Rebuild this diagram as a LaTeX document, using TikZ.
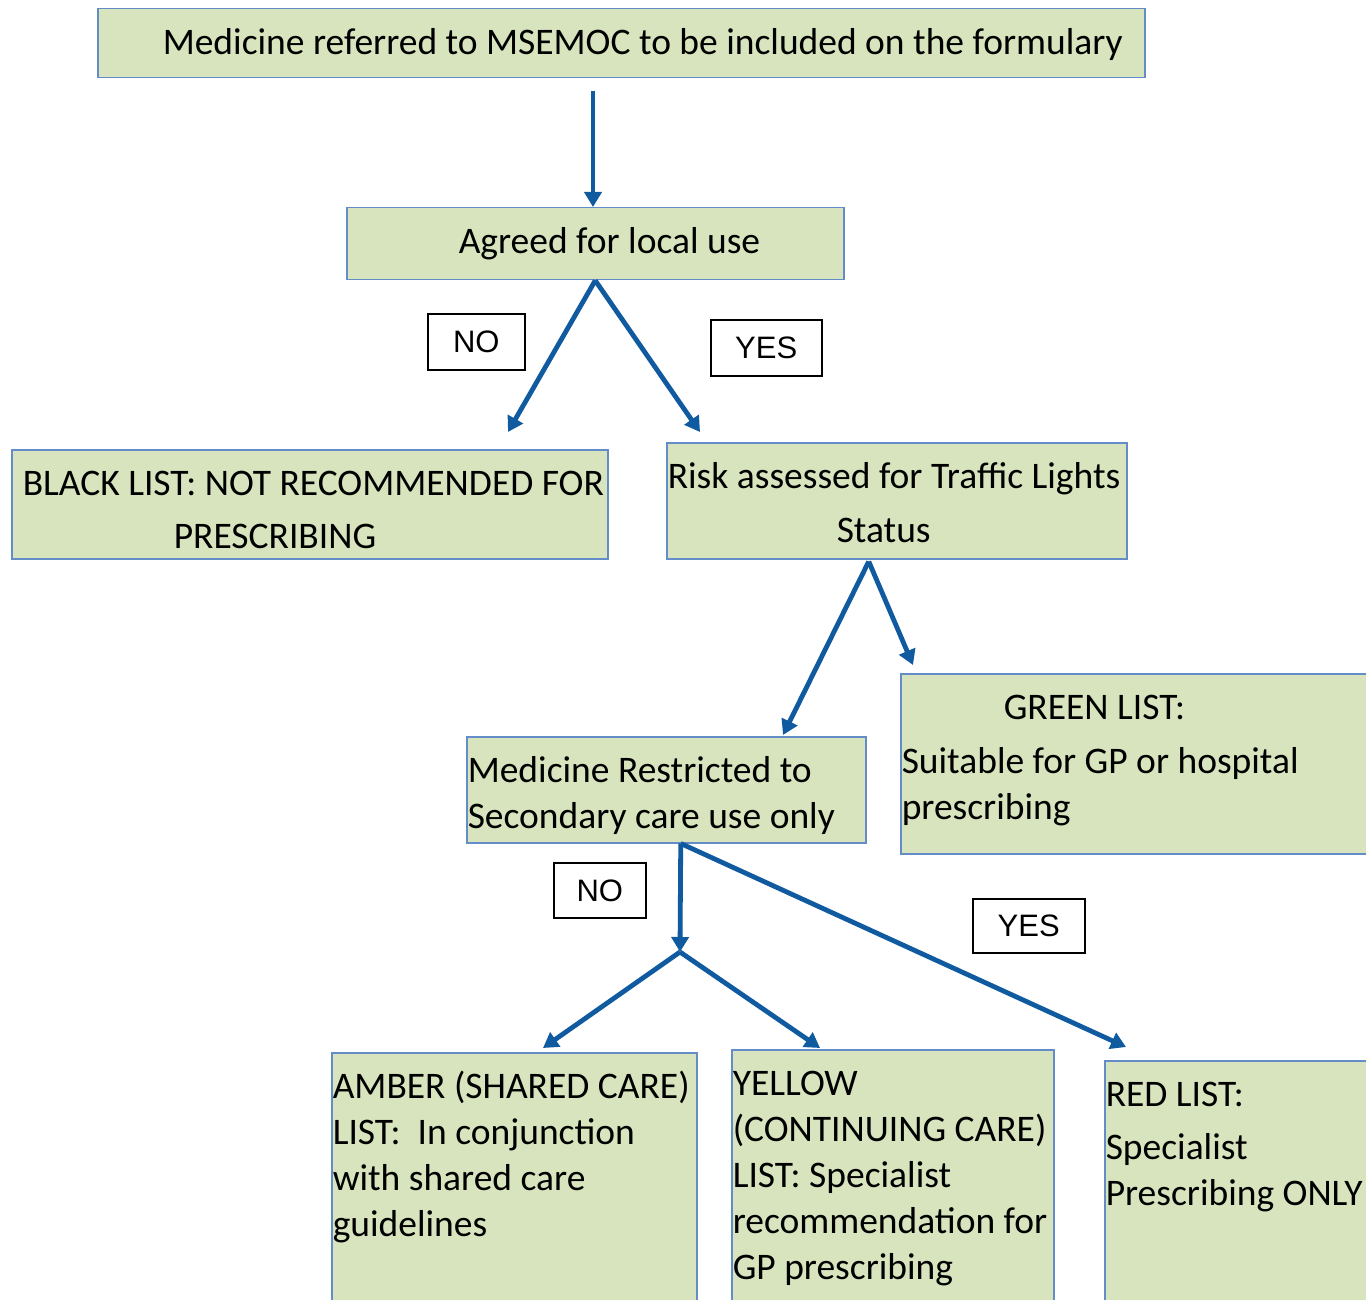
\documentclass[tikz,border=0pt]{standalone}
\usepackage{fontspec}
\setmainfont{Carlito}
\newfontfamily\tagfont{Liberation Sans}
\usetikzlibrary{arrows.meta, positioning, calc}
\definecolor{boxfill}{RGB}{215,228,189}
\definecolor{boxline}{RGB}{100,140,200}
\definecolor{arrowblue}{RGB}{16,90,160}
\tikzset{
  box/.style={
    draw=boxline,
    fill=boxfill,
    line width=1.5pt,
    rectangle,
    anchor=north west,
    align=flush left,
    inner xsep=1pt,
    inner ysep=0pt,
    text height=46pt,
    font=\fontsize{37.5pt}{46pt}\selectfont,
  },
  tag/.style={
    draw=black,
    fill=white,
    line width=1.5pt,
    rectangle,
    anchor=north west,
    inner sep=0pt,
    text height=22pt,
    text depth=0pt,
    font=\tagfont\fontsize{31pt}{36pt}\selectfont,
  },
  arrow/.style={
    draw=arrowblue,
    line width=4.8pt,
    -{Triangle[length=15pt,width=17pt]}
  }
}

\begin{document}
\begin{tikzpicture}[x=1pt,y=-1pt]
\useasboundingbox (0,0) rectangle (1366,1300);
\clip (0,0) rectangle (1366,1300);

% --- Boxes ---
\node[box, text width=1045pt, text depth=23pt] (referred) at (97,8)
  {\hspace*{64pt}Medicine referred to MSEMOC to be included on the formulary};
\node[box, text width=495pt, text depth=26pt] (agreed) at (346,207)
  {\hspace*{111pt}Agreed for local use};
\node[box, text width=594pt, text depth=63pt] (black) at (11,449)
  {\hspace*{10pt}BLACK LIST: NOT RECOMMENDED FOR\\[7pt]\hspace*{161pt}PRESCRIBING};
\node[box, text width=458pt, text depth=70pt] (risk) at (666,442)
  {Risk assessed for Traffic Lights\\[8pt]\hspace*{169pt}Status};
\node[box, text width=397pt, text depth=60pt] (restricted) at (466,736)
  {Medicine Restricted to\\Secondary care use only};
\node[box, text width=498pt, text depth=134pt] (green) at (900,673)
  {\hspace*{102pt}GREEN LIST:\\[8pt]Suitable for GP or hospital\\prescribing};
\node[box, text width=363pt, text depth=300pt] (amber) at (331,1052)
  {AMBER (SHARED CARE)\\LIST:\ \ In conjunction\\with shared care\\guidelines};
\node[box, text width=320pt, text depth=300pt] (yellow) at (731,1049)
  {YELLOW\\(CONTINUING CARE)\\LIST: Specialist\\recommendation for\\GP prescribing};
\node[box, text width=298pt, text depth=300pt] (red) at (1104,1060)
  {RED LIST:\\[7pt]Specialist\\Prescribing ONLY};

% --- Yes / No tags ---
\node[tag, minimum width=97pt, minimum height=56pt] (no1) at (427,313) {NO};
\node[tag, minimum width=111pt, minimum height=56pt] (yes1) at (710,319) {YES};
\node[tag, minimum width=92pt, minimum height=55pt] (no2) at (553,862) {NO};
\node[tag, minimum width=112pt, minimum height=54pt] (yes2) at (972,898) {YES};

% --- Arrow ends ---
\coordinate (start) at (593,91);
\coordinate (blackend) at (508,432);
\coordinate (riskend) at (700,432);
\coordinate (risksplit) at ($(risk.south)+(-28,2)$);
\coordinate (restrictedend) at (783,735);
\coordinate (greenend) at (913,665);
\coordinate (split) at ($(restricted.south)+(14.5,0)$);
\coordinate (fork) at (680,952);
\coordinate (amberend) at (543,1048);
\coordinate (yellowend) at (820,1048);
\coordinate (redend) at (1126,1047);

% --- Arrows ---
\draw[arrow] (start) -- (start |- agreed.north);
\draw[arrow] (agreed.south) -- (blackend);
\draw[arrow] (agreed.south) -- (riskend);
\draw[arrow] (risksplit) -- (restrictedend);
\draw[arrow] (risksplit) -- (greenend);
\draw[arrow] (split) -- (fork);
\draw[arrow] (fork) -- (amberend);
\draw[arrow] (fork) -- (yellowend);
\draw[arrow] (split) -- (redend);

\end{tikzpicture}
\end{document}
